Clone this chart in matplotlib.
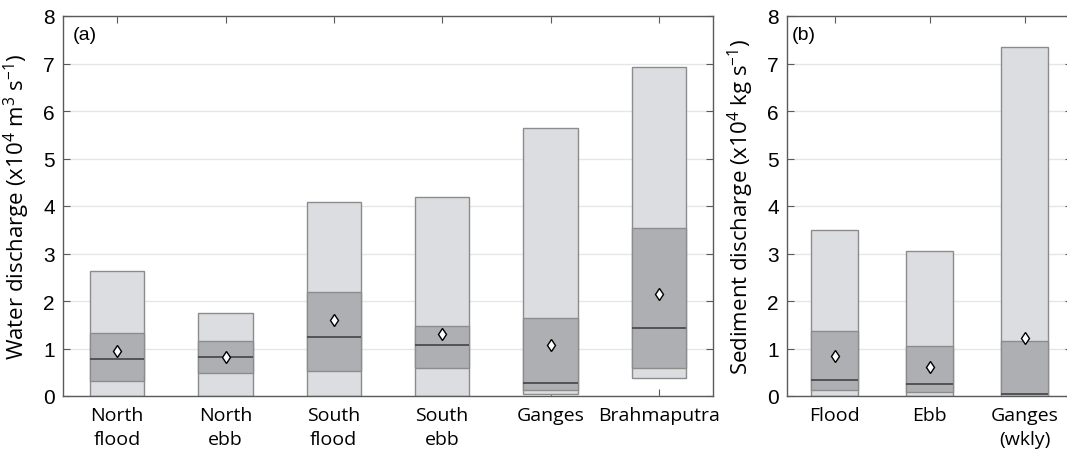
import matplotlib
matplotlib.use("Agg")
import matplotlib.pyplot as plt

plt.rcParams["mathtext.fontset"] = "custom"
plt.rcParams["mathtext.rm"] = "Open Sans"
plt.rcParams["mathtext.it"] = "Open Sans"
plt.rcParams["mathtext.default"] = "rm"

# panel (a): water discharge (x10^4 m3/s)
cats_a = ["North\nflood", "North\nebb", "South\nflood", "South\nebb", "Ganges", "Brahmaputra"]
lo_a = [0.0, 0.0, 0.0, 0.0, 0.05, 0.37]
q1_a = [0.32, 0.48, 0.53, 0.58, 0.12, 0.60]
med_a = [0.77, 0.82, 1.24, 1.07, 0.27, 1.44]
q3_a = [1.33, 1.15, 2.20, 1.47, 1.64, 3.53]
hi_a = [2.63, 1.75, 4.08, 4.18, 5.65, 6.92]
mean_a = [0.95, 0.83, 1.60, 1.30, 1.07, 2.15]

# panel (b): sediment discharge (x10^4 kg/s)
cats_b = ["Flood", "Ebb", "Ganges\n(wkly)"]
lo_b = [0.0, 0.0, 0.0]
q1_b = [0.12, 0.08, 0.01]
med_b = [0.33, 0.25, 0.04]
q3_b = [1.36, 1.05, 1.15]
hi_b = [3.50, 3.05, 7.35]
mean_b = [0.85, 0.61, 1.23]

light = "#dcdde0"
dark = "#aeafb3"
edge = "#8c8c8c"
spine = "#5a5a5a"

fig = plt.figure(figsize=(10.67, 4.6), dpi=100)
ax_a = fig.add_axes([63/1067, 1-397/460, 650/1067, 380/460])
ax_b = fig.add_axes([787/1067, 1-397/460, 285/1067, 380/460])


def draw(ax, cats, lo, q1, med, q3, hi, mean, tag, ylab):
    x = list(range(1, len(cats) + 1))
    w = 0.5
    hgt_out = [h - l for h, l in zip(hi, lo)]
    hgt_in = [b - a for b, a in zip(q3, q1)]
    ax.bar(x, hgt_out, bottom=lo, width=w, color=light, edgecolor=edge, linewidth=1.0, zorder=2)
    ax.bar(x, hgt_in, bottom=q1, width=w, color=dark, edgecolor=edge, linewidth=1.0, zorder=3)
    ax.hlines(med, [i - w/2 for i in x], [i + w/2 for i in x], color="#444444", linewidth=1.2, zorder=4)
    ax.plot(x, mean, linestyle="none", marker="d", markersize=6.5, markerfacecolor="white",
            markeredgecolor="black", markeredgewidth=1.0, zorder=5)
    ax.set_xlim(0.5, len(cats) + 0.5)
    ax.set_ylim(0, 8)
    ax.set_yticks(range(0, 9))
    ax.set_xticks(x)
    ax.set_xticklabels(cats, fontsize=14, family="Open Sans", linespacing=1.45)
    ax.grid(axis="y", color="#e6e6e6", linewidth=1.0, zorder=0)
    ax.set_axisbelow(True)
    ax.tick_params(axis="both", direction="in", length=5, color=spine, top=True, right=True)
    ax.tick_params(axis="y", labelsize=15, pad=6)
    ax.tick_params(axis="x", pad=7)
    for lab in ax.get_yticklabels():
        lab.set_family("Liberation Sans")
    for s in ax.spines.values():
        s.set_color(spine)
        s.set_linewidth(1.0)
    ax.text(0.015, 0.975, tag, transform=ax.transAxes, ha="left", va="top", fontsize=14,
            family="Liberation Sans")
    ax.set_ylabel(ylab, fontsize=16, family="Open Sans", labelpad=8)


draw(ax_a, cats_a, lo_a, q1_a, med_a, q3_a, hi_a, mean_a, "(a)",
     r"Water discharge (x10$^{4}$ m$^{3}$ s$^{-1}$)")
draw(ax_b, cats_b, lo_b, q1_b, med_b, q3_b, hi_b, mean_b, "(b)",
     r"Sediment discharge (x10$^{4}$ kg s$^{-1}$)")

fig.savefig("out.png", dpi=100)
